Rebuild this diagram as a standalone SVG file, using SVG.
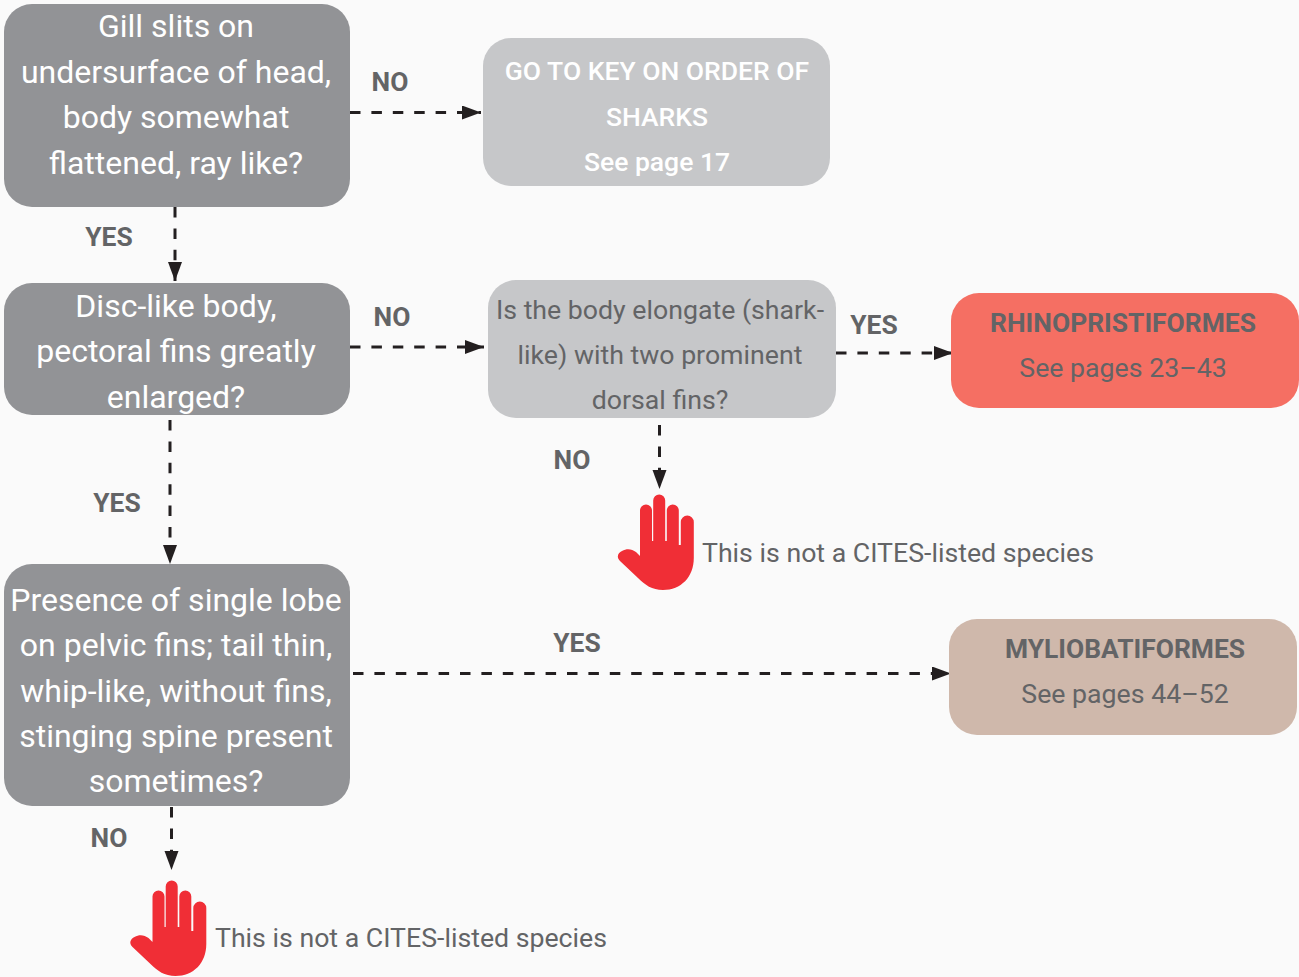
<svg xmlns="http://www.w3.org/2000/svg" width="1299" height="977" viewBox="0 0 1299 977">
<style>
text{font-family:Roboto,"Liberation Sans",sans-serif;text-anchor:middle}
.w{fill:#fff;font-size:32px}
.m{fill:#fff;font-size:26.5px;font-weight:500}
.g{fill:#636466;font-size:26.7px}
.l{fill:#636466;font-size:26.4px;font-weight:700}
.s{fill:#636466;font-size:26.7px;text-anchor:start}
.c{fill:none;stroke:#231f20;stroke-width:3;stroke-dasharray:10.500 10.900}
.d{fill:#929396}.e{fill:#c6c7c9}
</style>
<defs>
<marker id="a" markerUnits="userSpaceOnUse" markerWidth="20" markerHeight="16" refX="19" refY="7" orient="auto"><path d="M0 0L19 7L0 14Z" fill="#231f20"/></marker>
<path id="hand" d="M640 558V510.500A6 6 0 0 1 652 510.500V541H653.200V500.500A6 6 0 0 1 665.200 500.500V541H666.800V510.500A6 6 0 0 1 678.800 510.500V545H680.800V522A6.500 6.500 0 0 1 693.800 522V558C693.800 577 681 590 663 590C652 590 645 585 638 578L620 561C616 557 618 553 622 551C627 548 632 549 636 552L640 556Z" fill="#f02e36"/>
</defs>
<rect width="1299" height="977" fill="#fafafa"/>
<g id="connectors">
<path class="c" d="M350 112.500H481" marker-end="url(#a)"/>
<path class="c" d="M175 207V281" marker-end="url(#a)"/>
<path class="c" d="M350 347H484" marker-end="url(#a)"/>
<path class="c" d="M836 353H953" marker-end="url(#a)"/>
<path class="c" d="M659.500 425V489" marker-end="url(#a)"/>
<path class="c" d="M170 420V564" marker-end="url(#a)"/>
<path class="c" d="M353 673.500H951" marker-end="url(#a)"/>
<path class="c" d="M171.500 807V870" marker-end="url(#a)"/>
</g>
<g id="n1"><rect class="d" x="4" y="4" width="346" height="203" rx="28"/>
<text class="w" x="176" y="37">Gill slits on</text><text class="w" x="176" y="82.500">undersurface of head,</text><text class="w" x="176" y="128">body somewhat</text><text class="w" x="176" y="173.500">flattened, ray like?</text></g>
<g id="n2"><rect class="e" x="483" y="38" width="347" height="148" rx="28"/>
<text class="m" x="657" y="80">GO TO KEY ON ORDER OF</text><text class="m" x="657" y="126">SHARKS</text><text class="m" x="657" y="171">See page 17</text></g>
<g id="n3"><rect class="d" x="4" y="283" width="346" height="132" rx="28"/>
<text class="w" x="176" y="316.500">Disc-like body,</text><text class="w" x="176" y="362">pectoral fins greatly</text><text class="w" x="176" y="407.500">enlarged?</text></g>
<g id="n4"><rect class="e" x="488" y="280" width="348" height="138" rx="28"/>
<text class="g" x="660" y="319">Is the body elongate (shark-</text><text class="g" x="660" y="364">like) with two prominent</text><text class="g" x="660" y="409">dorsal fins?</text></g>
<g id="n5"><rect x="951" y="293" width="348" height="115" rx="28" fill="#f56f63"/>
<text class="l" x="1123" y="332">RHINOPRISTIFORMES</text><text class="g" x="1123" y="377">See pages 23–43</text></g>
<g id="n6"><rect class="d" x="4" y="564" width="346" height="242" rx="28"/>
<text class="w" x="176" y="611">Presence of single lobe</text><text class="w" x="176" y="656">on pelvic fins; tail thin,</text><text class="w" x="176" y="702">whip-like, without fins,</text><text class="w" x="176" y="747">stinging spine present</text><text class="w" x="176" y="792">sometimes?</text></g>
<g id="n7"><rect x="949" y="619" width="348" height="116" rx="28" fill="#cfb8ab"/>
<text class="l" x="1125" y="658">MYLIOBATIFORMES</text><text class="g" x="1125" y="703">See pages 44–52</text></g>
<g id="n8"><use href="#hand"/><text class="s" x="702" y="562">This is not a CITES-listed species</text></g>
<g id="n9"><use href="#hand" x="-487.500" y="386"/><text class="s" x="215" y="947">This is not a CITES-listed species</text></g>
<g id="labels">
<text class="l" x="390" y="91">NO</text><text class="l" x="109" y="246">YES</text><text class="l" x="392" y="326">NO</text><text class="l" x="874" y="334">YES</text><text class="l" x="572" y="469">NO</text><text class="l" x="117" y="512">YES</text><text class="l" x="577" y="652">YES</text><text class="l" x="109" y="847">NO</text>
</g>
</svg>
